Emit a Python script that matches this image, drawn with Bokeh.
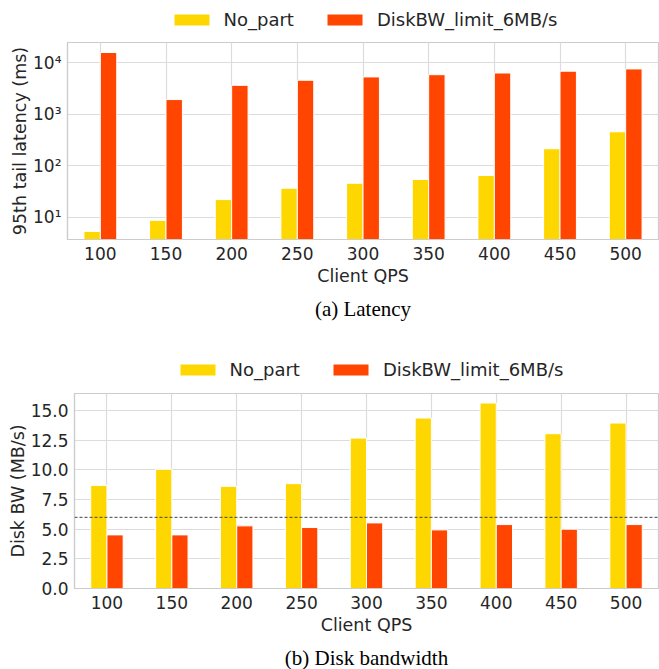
from bokeh.plotting import figure
from bokeh.models import (ColumnDataSource, FactorRange, Range1d, Legend, LegendItem,
                          FixedTicker, Span, Title, NumeralTickFormatter)
from bokeh.transform import dodge
from bokeh.embed import file_html
from bokeh.resources import INLINE

qps = ["100", "150", "200", "250", "300", "350", "400", "450", "500"]
series_names = ["No_part", "DiskBW_limit_6MB/s"]
lat_no_part = [5.3, 8.7, 22, 36.6, 45.7, 54, 64.6, 214, 457]
lat_disk_limit = [15850, 1930, 3650, 4580, 5320, 5880, 6340, 6870, 7600]
bw_no_part = [8.69, 10.05, 8.61, 8.84, 12.68, 14.37, 15.64, 13.05, 13.95]
bw_disk_limit = [4.52, 4.52, 5.28, 5.14, 5.53, 4.94, 5.39, 5.0, 5.39]
bw_limit = 6.0
log_ticks = [10, 100, 1000, 10000]
log_tick_labels = {10: "10¹", 100: "10²", 1000: "10³", 10000: "10⁴"}
bw_ticks = [0, 2.5, 5, 7.5, 10, 12.5, 15]

YELLOW = "#FFD700"
RED = "#FF4500"
TXT = "#262626"
GRID = "#dcdcdc"
FONT = "DejaVu Sans"


def style(p):
    p.background_fill_color = "white"
    p.border_fill_color = "white"
    p.outline_line_color = "#cccccc"
    p.outline_line_width = 1.2
    for ax in (p.xaxis[0], p.yaxis[0]):
        ax.axis_line_color = "#cccccc"
        ax.axis_line_width = 1.2
        ax.major_tick_line_color = None
        ax.minor_tick_line_color = None
        ax.major_label_text_font = FONT
        ax.major_label_text_font_size = "17px"
        ax.major_label_text_color = TXT
        ax.axis_label_text_font = FONT
        ax.axis_label_text_font_size = "17.5px"
        ax.axis_label_text_font_style = "normal"
        ax.axis_label_text_color = TXT
    p.xaxis.major_label_standoff = 1
    p.xaxis.axis_label_standoff = 3
    p.yaxis.major_label_standoff = 0
    p.yaxis.axis_label_standoff = 0
    p.xgrid.grid_line_color = GRID
    p.ygrid.grid_line_color = GRID
    p.xgrid.grid_line_width = 1.2
    p.ygrid.grid_line_width = 1.2


def bars(p, src, bottom, visible=True):
    ra = p.vbar(x=dodge("qps", -0.125, range=p.x_range), top="a", bottom=bottom, width=0.25,
                source=src, fill_color=YELLOW, line_color="white", line_width=1,
                visible=visible)
    rb = p.vbar(x=dodge("qps", 0.125, range=p.x_range), top="b", bottom=bottom, width=0.25,
                source=src, fill_color=RED, line_color="white", line_width=1,
                visible=visible)
    return ra, rb


def legend_fig(src, height, loc):
    # a strip above the chart that only carries the legend
    lf = figure(x_range=FactorRange(*qps, range_padding=0), y_range=Range1d(-2, -1),
                width=659, height=height, output_backend="svg", toolbar_location=None,
                x_axis_location=None, y_axis_location=None,
                min_border=0, outline_line_color=None)
    lf.grid.visible = False
    lf.border_fill_color = "white"
    ra, rb = bars(lf, src, 0, visible=False)
    leg = Legend(items=[LegendItem(label=series_names[0], renderers=[ra]),
                        LegendItem(label=series_names[1], renderers=[rb])],
                 orientation="horizontal", location=loc,
                 glyph_width=45, glyph_height=15, label_standoff=10, spacing=28,
                 label_text_font=FONT, label_text_font_size="18px", label_text_color=TXT,
                 border_line_color=None, background_fill_alpha=0, padding=0, margin=0,
                 inactive_fill_alpha=0)
    lf.add_layout(leg, "center")
    return lf


def add_caption(p, text, standoff):
    t = Title(text=text, align="center", text_font="Liberation Serif",
              text_font_size="21px", text_font_style="normal", text_color="black",
              text_line_height=1.0, standoff=standoff)
    p.add_layout(t, "below")


# ---- top: latency ----
src1 = ColumnDataSource(dict(qps=qps, a=lat_no_part, b=lat_disk_limit))
leg1 = legend_fig(src1, 41, (168.5, 11.5))
p1 = figure(x_range=FactorRange(*qps, range_padding=0), y_range=Range1d(3.69, 24800),
            y_axis_type="log", width=659, height=299, output_backend="svg",
            toolbar_location=None, min_border_left=67, min_border_right=1,
            min_border_top=1, min_border_bottom=101)
bars(p1, src1, 1)
style(p1)
p1.yaxis.ticker = FixedTicker(ticks=log_ticks, minor_ticks=[])
p1.yaxis.major_label_overrides = log_tick_labels
p1.xaxis.axis_label = "Client QPS"
p1.yaxis.axis_label = "95th tail latency (ms)"
add_caption(p1, "(a) Latency", 13)

# ---- bottom: disk bandwidth ----
src2 = ColumnDataSource(dict(qps=qps, a=bw_no_part, b=bw_disk_limit))
leg2 = legend_fig(src2, 52, (174.5, 12.5))
p2 = figure(x_range=FactorRange(*qps, range_padding=0), y_range=Range1d(0, 16.44),
            width=659, frame_height=195, output_backend="svg",
            toolbar_location=None, min_border_left=74, min_border_right=1,
            min_border_top=1, min_border_bottom=0)
bars(p2, src2, 0)
style(p2)
p2.yaxis.ticker = FixedTicker(ticks=bw_ticks)
p2.yaxis.formatter = NumeralTickFormatter(format="0.0")
p2.add_layout(Span(location=bw_limit, dimension="width", line_color="#444444",
                   line_width=1, line_dash="3 2"))
p2.xaxis.axis_label = "Client QPS"
p2.yaxis.axis_label = "Disk BW (MB/s)"
add_caption(p2, "(b) Disk bandwidth", 13)

open("out.html", "w").write(file_html([leg1, p1, leg2, p2], INLINE))
